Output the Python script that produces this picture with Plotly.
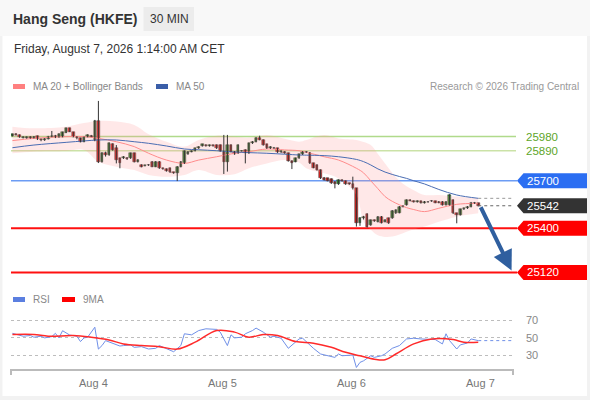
import plotly.graph_objects as go

# ---------------- data ----------------
opens = [25985, 25996, 25990, 25973, 25970, 25978, 25970, 25983, 25962, 25956,
         25965, 25980, 25985, 25976, 25978, 26005, 26032, 26006, 25979, 25968,
         25947, 25979, 25985, 25958, 26078, 25821, 25874, 25863, 25930, 25905,
         25842, 25842, 25845, 25842, 25874, 25821, 25800, 25795, 25800, 25821,
         25790, 25821, 25779, 25774, 25779, 25753, 25748, 25789, 25810, 25868,
         25884, 25890, 25905, 25920, 25926, 25920, 25925, 25926, 25926, 25884,
         25821, 25926, 25884, 25874, 25890, 25895, 25874, 25937, 25947, 25972,
         25958, 25930, 25905, 25910, 25905, 25880, 25884, 25874, 25825, 25821,
         25842, 25867, 25884, 25878, 25810, 25800, 25768, 25720, 25715, 25711,
         25694, 25678, 25705, 25698, 25684, 25680, 25652, 25431, 25462, 25490,
         25420, 25450, 25441, 25473, 25441, 25463, 25463, 25494, 25498, 25536,
         25547, 25578, 25572, 25566, 25570, 25560, 25568, 25574, 25570, 25568,
         25568, 25547, 25547, 25578, 25494, 25484, 25519, 25526, 25536, 25562,
         25557]
highs = [25998, 26001, 25993, 25982, 25981, 25982, 25983, 25986, 25966, 25970,
         25984, 26015, 25990, 26000, 26010, 26036, 26036, 26010, 25983, 25972,
         25980, 25994, 25990, 26085, 26205, 25880, 25884, 25942, 25937, 25926,
         25846, 25856, 25850, 25878, 25878, 25836, 25804, 25801, 25805, 25825,
         25825, 25825, 25783, 25778, 25783, 25757, 25793, 25825, 25892, 25888,
         25892, 25909, 25919, 25934, 25930, 25929, 25929, 25930, 25930, 25990,
         25990, 25930, 25888, 25930, 25894, 25899, 25941, 25951, 25976, 25985,
         25962, 25934, 25919, 25914, 25909, 25892, 25888, 25878, 25829, 25846,
         25871, 25888, 25888, 25882, 25814, 25804, 25772, 25724, 25719, 25715,
         25698, 25709, 25709, 25702, 25688, 25726, 25655, 25470, 25478, 25494,
         25455, 25455, 25477, 25477, 25456, 25467, 25515, 25519, 25540, 25544,
         25582, 25582, 25576, 25576, 25574, 25572, 25572, 25578, 25574, 25572,
         25572, 25572, 25615, 25582, 25498, 25523, 25530, 25540, 25566, 25566,
         25561]
lows = [25980, 25986, 25972, 25968, 25966, 25966, 25967, 25958, 25950, 25952,
        25961, 25976, 25970, 25972, 25975, 26002, 26008, 25975, 25962, 25943,
        25944, 25975, 25976, 25950, 25812, 25815, 25853, 25858, 25890, 25810,
        25779, 25838, 25832, 25838, 25816, 25816, 25785, 25791, 25794, 25786,
        25786, 25775, 25770, 25758, 25749, 25744, 25698, 25785, 25806, 25864,
        25880, 25886, 25901, 25916, 25916, 25916, 25916, 25901, 25884, 25743,
        25758, 25880, 25864, 25870, 25884, 25810, 25870, 25933, 25943, 25956,
        25922, 25901, 25901, 25901, 25876, 25876, 25870, 25821, 25774, 25817,
        25838, 25863, 25876, 25806, 25779, 25764, 25711, 25701, 25696, 25680,
        25652, 25674, 25694, 25674, 25674, 25645, 25410, 25415, 25455, 25405,
        25415, 25440, 25437, 25430, 25437, 25427, 25459, 25490, 25494, 25532,
        25543, 25570, 25562, 25562, 25556, 25556, 25561, 25566, 25558, 25558,
        25543, 25543, 25543, 25490, 25431, 25480, 25515, 25522, 25532, 25553,
        25538]
closes = [25994, 25990, 25975, 25979, 25978, 25970, 25978, 25962, 25956, 25965,
          25980, 25985, 25975, 25996, 26006, 26032, 26011, 25979, 25968, 25947,
          25977, 25990, 25980, 26078, 25821, 25874, 25862, 25937, 25895, 25831,
          25810, 25852, 25838, 25874, 25821, 25832, 25790, 25797, 25798, 25790,
          25821, 25779, 25774, 25762, 25753, 25748, 25789, 25821, 25888, 25884,
          25888, 25905, 25915, 25930, 25920, 25925, 25920, 25905, 25888, 25821,
          25926, 25884, 25868, 25926, 25888, 25874, 25937, 25947, 25972, 25960,
          25926, 25905, 25915, 25905, 25880, 25888, 25874, 25825, 25810, 25842,
          25867, 25884, 25880, 25810, 25783, 25768, 25715, 25705, 25700, 25684,
          25678, 25705, 25698, 25678, 25678, 25655, 25431, 25462, 25470, 25410,
          25450, 25445, 25473, 25435, 25452, 25431, 25511, 25515, 25536, 25540,
          25578, 25574, 25566, 25572, 25560, 25568, 25565, 25570, 25562, 25562,
          25547, 25568, 25610, 25494, 25484, 25519, 25526, 25536, 25562, 25557,
          25542]
bars = list(range(len(closes)))

band_x = [0, 6, 15, 20, 24, 29, 34, 38, 43, 48, 52, 57, 62, 66, 71, 76, 80, 82,
          87, 91, 96, 98, 100, 102, 104, 106, 108, 110, 112, 115, 119, 124, 130]
bb_upper = [26042, 26032, 26042, 26065, 26078, 26075, 26053, 25995, 25947, 25916,
            25958, 25985, 25979, 25973, 25990, 25965, 25947, 25958, 25990, 25968,
            25958, 25945, 25926, 25870, 25810, 25750, 25700, 25665, 25640, 25610,
            25610, 25600, 25589]
bb_lower = [25874, 25884, 25888, 25895, 25821, 25789, 25768, 25737, 25726, 25737,
            25768, 25737, 25741, 25779, 25810, 25831, 25815, 25779, 25747, 25715,
            25610, 25441, 25390, 25355, 25345, 25347, 25360, 25378, 25392, 25410,
            25441, 25473, 25494]
ma20 = [25954, 25968, 25979, 25979, 25968, 25947, 25916, 25874, 25831, 25810,
        25831, 25852, 25874, 25884, 25901, 25895, 25890, 25880, 25852, 25831,
        25779, 25750, 25700, 25650, 25600, 25570, 25548, 25530, 25518, 25505,
        25526, 25551, 25557]
ma50 = [25909, 25926, 25943, 25952, 25958, 25958, 25947, 25937, 25920, 25901,
        25896, 25890, 25882, 25878, 25874, 25868, 25863, 25862, 25859, 25852,
        25835, 25821, 25800, 25775, 25755, 25740, 25727, 25715, 25700, 25680,
        25645, 25610, 25589]

rsi_x = [0, 2, 3, 5, 6, 8, 9, 11, 12, 13, 14, 16, 18, 19, 20, 21, 23, 24, 25, 26,
         28, 30, 31, 33, 34, 36, 38, 40, 41, 43, 45, 47, 48, 50, 52, 54, 56, 57, 58,
         60, 61, 62, 64, 65, 67, 68, 70, 72, 73, 75, 77, 80, 81, 83, 84, 86, 88, 90,
         91, 92, 95, 96, 97, 98, 100, 101, 103, 104, 106, 108, 110, 112, 114, 116,
         118, 120, 121, 122, 124, 125, 127, 128, 130]
rsi = [55, 53, 51.7, 52.5, 50.6, 51.7, 49.8, 51.3, 55, 49.8, 58, 53, 51.7, 45.6,
       49.8, 50.6, 62, 37, 41, 46.7, 44, 40.5, 41, 41.8, 39, 39.8, 37.1, 37.9, 41,
       37.9, 34, 41, 54.5, 53.3, 58.2, 60.2, 60.2, 59.5, 56.4, 41, 53.3, 49.8, 50.6,
       54.5, 58.2, 61, 56.4, 50.6, 51.7, 49.4, 37.9, 48.6, 49.4, 41, 37.9, 31.4,
       29.4, 27.5, 31.4, 29.4, 30.2, 16, 21.8, 23.6, 29.4, 27.5, 29.4, 31.4, 37.9,
       41, 48.6, 49.4, 48.6, 48.6, 47.9, 42.9, 54.5, 46.7, 37.1, 41.8, 44, 48.6,
       46.7]
rsi_ma_x = [0, 6, 10, 17, 22, 27, 31, 36, 41, 46, 51, 57, 62, 66, 70, 74, 79, 84,
            89, 93, 97, 101, 104, 107, 112, 117, 123, 126, 130]
rsi_ma = [53.7, 53.7, 51.7, 52.5, 50.6, 47.5, 42.9, 41, 39.8, 37, 44.9, 58.2, 56.4,
          50.6, 53.7, 52.5, 45.6, 43.7, 39, 33.3, 29.4, 25.5, 24.8, 31.4, 42.9, 48.6,
          47.9, 44.9, 44.9]

day_ticks = [22.5, 58.5, 94.5, 130.5]
day_labels = ["Aug 4", "Aug 5", "Aug 6", "Aug 7"]

resistances = [25980, 25890]
pivot = 25700
last_price = 25542
supports = [25400, 25120]
rsi_levels = [30, 50, 70]

# ---------------- layout helpers ----------------
W, H = 590, 400
FONT = "Liberation Sans, Arial, sans-serif"


def fx(p):
    return p / W


def fy(p):
    return 1 - p / H


X_RANGE = [-0.39, 139.7]
Y_RANGE = [25059.7, 26242.5]
Y2_RANGE = [13.1, 87.4]

fig = go.Figure()

# Bollinger band
fig.add_trace(go.Scatter(x=band_x, y=bb_upper, mode="lines",
                         line=dict(width=0, shape="spline", smoothing=1),
                         hoverinfo="skip", showlegend=False))
fig.add_trace(go.Scatter(x=band_x, y=bb_lower, mode="lines",
                         line=dict(width=0, shape="spline", smoothing=1),
                         fill="tonexty", fillcolor="rgba(255,150,150,0.22)",
                         hoverinfo="skip", showlegend=False))
fig.add_trace(go.Scatter(x=band_x, y=ma20, mode="lines",
                         line=dict(color="#ff8c8c", width=1, shape="spline", smoothing=1),
                         showlegend=False))
fig.add_trace(go.Scatter(x=band_x, y=ma50, mode="lines",
                         line=dict(color="#4a6db3", width=1, shape="spline", smoothing=1),
                         showlegend=False))

# candles: wicks + bodies
wx, wy = [], []
for i, lo, hi in zip(bars, lows, highs):
    wx += [i, i, None]
    wy += [lo, hi, None]
fig.add_trace(go.Scatter(x=wx, y=wy, mode="lines",
                         line=dict(color="#333333", width=1), showlegend=False))
bases = [min(o, c) for o, c in zip(opens, closes)]
heights = [max(abs(c - o), 3) for o, c in zip(opens, closes)]
colors = ["#2a8a2a" if c >= o else "#e3211c" for o, c in zip(opens, closes)]
fig.add_trace(go.Bar(x=bars, y=heights, base=bases, width=0.72,
                     marker=dict(color=colors, line=dict(color="#333333", width=0.5)),
                     showlegend=False))

# RSI panel
fig.add_trace(go.Scatter(x=rsi_x, y=rsi, mode="lines", xaxis="x2", yaxis="y2",
                         line=dict(color="#7090e8", width=1), showlegend=False))
fig.add_trace(go.Scatter(x=rsi_ma_x, y=rsi_ma, mode="lines", xaxis="x2", yaxis="y2",
                         line=dict(color="#ff2a2a", width=1.5, shape="spline", smoothing=1),
                         showlegend=False))

shapes = []
# page background frame
shapes.append(dict(type="rect", xref="paper", yref="paper", x0=fx(0), x1=fx(590),
                   y0=fy(36), y1=fy(0), fillcolor="#f8f8f8", line=dict(width=0),
                   layer="below"))
shapes.append(dict(type="rect", xref="paper", yref="paper", x0=fx(2.5), x1=fx(587),
                   y0=fy(396), y1=fy(36), fillcolor="#ffffff", line=dict(width=0),
                   layer="below"))
# 30 MIN badge
shapes.append(dict(type="rect", xref="paper", yref="paper", x0=fx(143.5), x1=fx(194),
                   y0=fy(31), y1=fy(7), fillcolor="#ececec", line=dict(width=0),
                   layer="below"))
# legend swatches
shapes.append(dict(type="rect", xref="paper", yref="paper", x0=fx(13), x1=fx(25),
                   y0=fy(89), y1=fy(84), fillcolor="#ff8080", line=dict(width=0)))
shapes.append(dict(type="rect", xref="paper", yref="paper", x0=fx(156), x1=fx(168),
                   y0=fy(89), y1=fy(84), fillcolor="#3a5ea8", line=dict(width=0)))
shapes.append(dict(type="rect", xref="paper", yref="paper", x0=fx(13), x1=fx(25),
                   y0=fy(302), y1=fy(297), fillcolor="#5b7fe0", line=dict(width=0)))
shapes.append(dict(type="rect", xref="paper", yref="paper", x0=fx(62), x1=fx(75),
                   y0=fy(302), y1=fy(297), fillcolor="#ff0000", line=dict(width=0)))

# level lines
res_colors = ["rgba(150,205,100,0.75)", "rgba(175,210,120,0.65)"]
for lvl, col in zip(resistances, res_colors):
    shapes.append(dict(type="line", xref="paper", yref="y", x0=fx(11), x1=fx(516),
                       y0=lvl, y1=lvl, line=dict(color=col, width=1.5), layer="below"))
shapes.append(dict(type="line", xref="paper", yref="y", x0=fx(11), x1=fx(517),
                   y0=pivot, y1=pivot, line=dict(color="#6c9cf4", width=1.5),
                   layer="below"))
for lvl in supports:
    shapes.append(dict(type="line", xref="paper", yref="y", x0=fx(11), x1=fx(517),
                       y0=lvl, y1=lvl, line=dict(color="#ff1010", width=2),
                       layer="below"))

# dotted extensions from the last bar
shapes.append(dict(type="line", xref="x", yref="y", x0=bars[-1], x1=X_RANGE[1],
                   y0=closes[-1], y1=closes[-1],
                   line=dict(color="#666666", width=1, dash="dot")))
shapes.append(dict(type="line", xref="x", yref="y", x0=band_x[-1], x1=X_RANGE[1],
                   y0=ma50[-1], y1=ma50[-1],
                   line=dict(color="#999999", width=1, dash="dot")))
shapes.append(dict(type="line", xref="x2", yref="y2", x0=rsi_x[-1], x1=X_RANGE[1],
                   y0=rsi[-1], y1=rsi[-1],
                   line=dict(color="#7090e8", width=1, dash="dot")))

# price tags
tags = [(pivot, "#2b6ef2"), (last_price, "#333333"),
        (supports[0], "#ff0000"), (supports[1], "#ff0000")]
for lvl, col in tags:
    path = (f"M {fx(517)},0 L {fx(523.5)},7.5 L {fx(587)},7.5 "
            f"L {fx(587)},-7.5 L {fx(523.5)},-7.5 Z")
    shapes.append(dict(type="path", xref="paper", yref="y", ysizemode="pixel",
                       yanchor=lvl, path=path, fillcolor=col, line=dict(width=0)))

# x axis line with end ticks
shapes.append(dict(type="path", xref="paper", yref="paper",
                   path=(f"M {fx(11)},{fy(375)} L {fx(11)},{fy(370)} "
                         f"L {fx(513)},{fy(370)} L {fx(513)},{fy(375)}"),
                   line=dict(color="#bbbbbb", width=2)))

annotations = []


def txt(x, y, s, size, color, xanchor="left", bold=False, xref="paper", yref="paper"):
    annotations.append(dict(x=x, y=y, xref=xref, yref=yref, text=s, showarrow=False,
                            xanchor=xanchor, yanchor="middle",
                            font=dict(family=FONT, size=size, color=color,
                                      weight="bold" if bold else "normal")))


txt(fx(11), fy(19.5), "Hang Seng (HKFE)", 14, "#333333", bold=True)
txt(fx(169), fy(19.5), "30 MIN", 12, "#333333", xanchor="center")
txt(fx(12), fy(49), "Friday, August 7, 2026 1:14:00 AM CET", 12, "#333333")
txt(fx(31), fy(86.5), "MA 20 + Bollinger Bands", 10, "#888888")
txt(fx(174), fy(86.5), "MA 50", 10, "#888888")
txt(fx(581), fy(86.5), "Research © 2026 Trading Central", 10, "#999999", xanchor="right")
txt(fx(31), fy(299.5), "RSI", 10, "#888888")
txt(fx(81), fy(299.5), "9MA", 10, "#888888")

for lvl in resistances:
    txt(fx(524), lvl, str(lvl), 11.5, "#5ea52a", yref="y")
for lvl, col in tags:
    txt(fx(525), lvl, str(lvl), 11.5, "#ffffff", yref="y")
for lvl in rsi_levels:
    txt(fx(524), lvl, str(lvl), 11, "#888888", yref="y2")
for t, lab in zip(day_ticks, day_labels):
    txt(t, fy(383), lab, 11, "#777777", xanchor="center", xref="x2")

# forecast arrow
annotations.append(dict(x=139.3, y=supports[1] + 12, xref="x", yref="y",
                        ax=bars[-1] + 0.5, ay=closes[-1], axref="x", ayref="y",
                        text="", showarrow=True, arrowhead=2, arrowsize=1,
                        arrowwidth=4, arrowcolor="#2f5f9f", standoff=0))

fig.update_layout(
    width=W, height=H, margin=dict(l=0, r=0, t=0, b=0),
    paper_bgcolor="#f2f2f2", plot_bgcolor="rgba(0,0,0,0)",
    showlegend=False, bargap=0, barmode="overlay",
    font=dict(family=FONT),
    xaxis=dict(domain=[fx(11), fx(513)], range=X_RANGE, visible=False,
               anchor="y"),
    yaxis=dict(domain=[fy(282), fy(95)], range=Y_RANGE, visible=False,
               anchor="x"),
    xaxis2=dict(domain=[fx(11), fx(513)], range=X_RANGE, visible=False,
                anchor="y2", matches="x"),
    yaxis2=dict(domain=[fy(370), fy(305)], range=Y2_RANGE, anchor="x2",
                showgrid=True, tickvals=rsi_levels, griddash="dot",
                gridcolor="#bdbdbd", gridwidth=1, showticklabels=False,
                zeroline=False, showline=False, ticks=""),
    shapes=shapes, annotations=annotations,
)

fig.write_html("out.html", config={"displayModeBar": False},
               post_script="document.body.style.margin='0';"
                           "document.body.style.overflow='hidden';")
